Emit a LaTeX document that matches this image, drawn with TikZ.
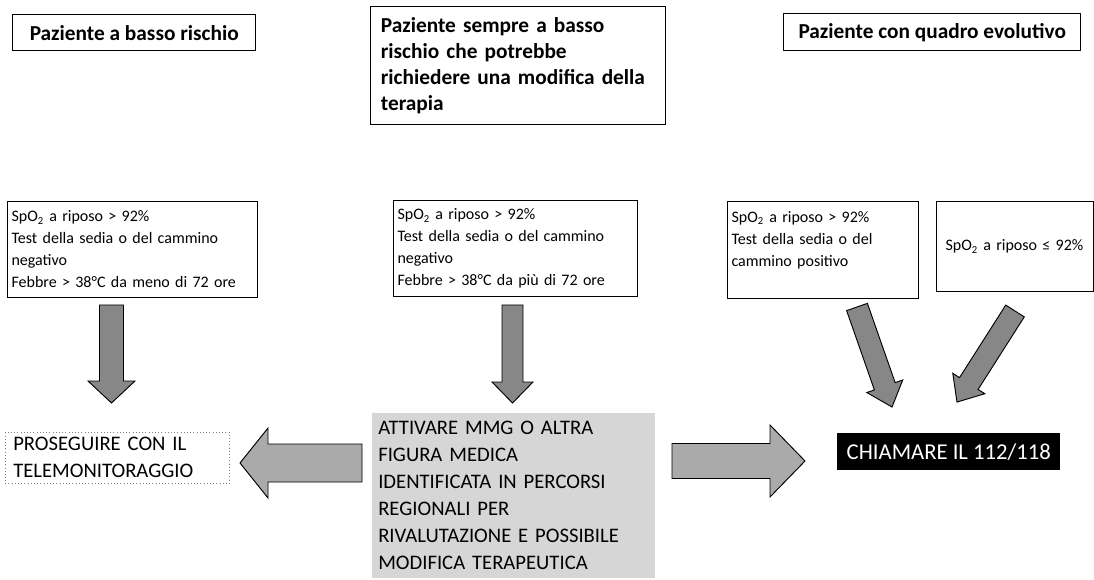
\documentclass[tikz,border=0pt]{standalone}
\usepackage{fontspec}
\setmainfont{Carlito}
\usepackage{xcolor}
\usepackage{tikz}
\usetikzlibrary{positioning, calc}
\definecolor{ArrowDark}{RGB}{135,135,135}
\definecolor{ArrowLight}{RGB}{170,170,170}
\definecolor{BoxStipple}{RGB}{214,214,214}
\tikzset{
    headbox/.style={
        draw, line width=1.1pt, anchor=north west, align=left,
        font=\bfseries\fontsize{16}{19.5}\selectfont
    },
    critbox/.style={
        draw, line width=0.8pt, anchor=north west, align=left, inner xsep=3pt,
        font=\fontsize{12}{16.5}\selectfont
    },
    actionbox/.style={
        anchor=north west, align=left, inner ysep=0pt,
        font=\fontsize{15.5}{20.25}\selectfont
    },
    fatarrowstyle/.style={
        draw=black, line width=0.7pt, line join=miter, fill=ArrowDark
    }
}
% block arrow: [style]{tail}{angle}{length}{shaft half}{head half}{head length}
\newcommand{\fatarrow}[7][]{%
    \begin{scope}[shift={#2}, rotate=#3]
        \draw[fatarrowstyle, #1] (0,-#5) -- (#4-#7,-#5) -- (#4-#7,-#6) -- (#4,0)
            -- (#4-#7,#6) -- (#4-#7,#5) -- (0,#5) -- cycle;
    \end{scope}}

\begin{document}
\begin{tikzpicture}[x=0.75pt, y=-0.75pt]
    \useasboundingbox (0,0) rectangle (1094,580);

    % risk classes
    \node[headbox, minimum width=182.25pt, minimum height=27pt] (headLow) at (12,14)
        {Paziente a basso rischio};
    \node[headbox, minimum width=221.25pt, minimum height=88.5pt, text width=206pt, inner xsep=7.5pt] (headMid) at (370,6)
        {Paziente sempre a basso\\ rischio che potrebbe\\ richiedere una modifica della\\ terapia};
    \node[headbox, minimum width=222.75pt, minimum height=27.75pt] (headEvol) at (783,13)
        {Paziente con quadro evolutivo};

    % criteria
    \node[critbox, minimum height=72pt, text width=181.5pt] (critLow) at (7,201)
        {SpO\textsubscript{2} a riposo > 92\%\\ Test della sedia o del cammino\\ negativo\\ Febbre > 38°C da meno di 72 ore};
    \node[critbox, minimum height=72pt, text width=177pt] (critMid) at (393,200)
        {SpO\textsubscript{2} a riposo > 92\%\\ Test della sedia o del cammino\\ negativo\\ Febbre > 38°C da più di 72 ore};
    \node[critbox, minimum height=72.75pt, text width=137.25pt] (critPos) at (727,201)
        {SpO\textsubscript{2} a riposo > 92\%\\ Test della sedia o del\\ cammino positivo\\ ~};
    \node[critbox, minimum height=67.5pt, text width=104.25pt, inner xsep=6.75pt] (critSat) at (936,201)
        {SpO\textsubscript{2} a riposo ≤ 92\%};

    % actions
    \node[actionbox, draw=gray, dotted, minimum height=38.25pt, text width=156pt, inner xsep=6pt] (goOn) at (5,432)
        {PROSEGUIRE CON IL\\ TELEMONITORAGGIO};
    \node[actionbox, fill=BoxStipple, minimum height=123.75pt, text width=203.25pt, inner xsep=4.5pt] (activate) at (372,413)
        {ATTIVARE MMG O ALTRA\\ FIGURA MEDICA\\ IDENTIFICATA IN PERCORSI\\ REGIONALI PER\\ RIVALUTAZIONE E POSSIBILE\\ MODIFICA TERAPEUTICA};
    \node[anchor=north west, fill=black, text=white, minimum width=167.25pt, minimum height=27.75pt,
        font=\fontsize{17}{18}\selectfont] (call112) at (837,433)
        {CHIAMARE IL 112/118};

    % arrows
    \coordinate (tailLow) at (111.5,305);
    \coordinate (tailMid) at (512.5,305);
    \coordinate (tailPos) at (857,307);
    \coordinate (tailSat) at (1015,311);
    \coordinate (tailLeft) at (362,463);
    \coordinate (tailRight) at (672,461);
    \fatarrow{(tailLow)}{-90}{98}{12}{23.5}{22}
    \fatarrow{(tailMid)}{-90}{98}{10.5}{20.5}{21}
    \fatarrow{(tailPos)}{-70.7}{106}{11}{19}{22}
    \fatarrow{(tailSat)}{-122.5}{108}{11}{19}{22}
    \fatarrow[fill=ArrowLight]{(tailLeft)}{180}{122}{19}{35}{28}
    \fatarrow[fill=ArrowLight]{(tailRight)}{0}{133}{17.5}{36}{35}
\end{tikzpicture}
\end{document}
